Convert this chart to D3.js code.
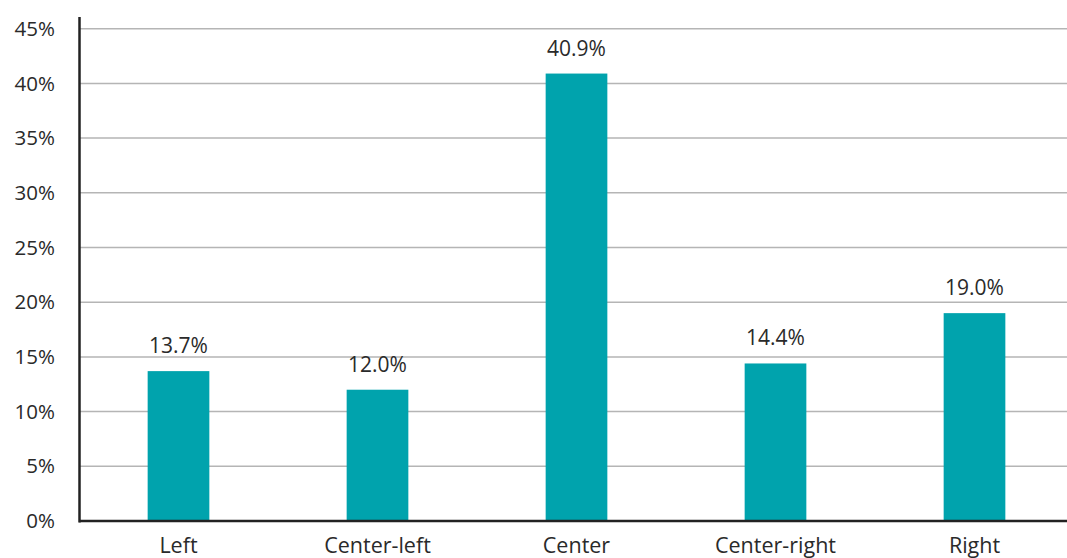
<!DOCTYPE html>
<html>
<head>
<meta charset="utf-8">
<script src="https://cdn.jsdelivr.net/npm/d3@7"></script>
<style>
  body { margin: 0; background: #fff; }
  svg text { font-family: "Open Sans", "Noto Sans", sans-serif; fill: #2a2a2a; }
</style>
</head>
<body>
<div id="chart-area"></div>
<script>
const WIDTH = 1067
const HEIGHT = 558
const MARGIN = { LEFT: 79, RIGHT: -7, TOP: 28.7, BOTTOM: 37 }

// data
const categories = ["Left", "Center-left", "Center", "Center-right", "Right"]
const values = [13.7, 12.0, 40.9, 14.4, 19.0]
const yTicks = [0, 5, 10, 15, 20, 25, 30, 35, 40, 45]

const svg = d3.select("#chart-area").append("svg")
  .attr("width", WIDTH)
  .attr("height", HEIGHT)

const x = d3.scaleBand()
  .domain(categories)
  .range([MARGIN.LEFT, WIDTH - MARGIN.RIGHT])
  .paddingInner(0.69)
  .paddingOuter(0.345)

const y = d3.scaleLinear()
  .domain([0, 45])
  .range([HEIGHT - MARGIN.BOTTOM, MARGIN.TOP])

// gridlines
svg.append("g")
  .selectAll("line")
  .data(yTicks.filter(d => d > 0))
  .join("line")
  .attr("x1", MARGIN.LEFT)
  .attr("x2", WIDTH)
  .attr("y1", d => y(d))
  .attr("y2", d => y(d))
  .attr("stroke", "#b5b5b5")
  .attr("stroke-width", 1.5)

// y tick labels
svg.append("g")
  .selectAll("text")
  .data(yTicks)
  .join("text")
  .attr("x", 55)
  .attr("y", d => y(d))
  .attr("dy", "0.35em")
  .attr("text-anchor", "end")
  .style("font-size", "20.5px")
  .text(d => d + "%")

// bars
svg.append("g")
  .selectAll("rect")
  .data(values)
  .join("rect")
  .attr("x", (d, i) => x(categories[i]))
  .attr("y", d => y(d))
  .attr("width", x.bandwidth())
  .attr("height", d => y(0) - y(d))
  .attr("fill", "#00a3ad")

// value labels
svg.append("g")
  .selectAll("text")
  .data(values)
  .join("text")
  .attr("x", (d, i) => x(categories[i]) + x.bandwidth() / 2)
  .attr("y", d => y(d) - 18)
  .attr("text-anchor", "middle")
  .style("font-size", "21px")
  .text(d => d.toFixed(1) + "%")

// axes lines
svg.append("line")
  .attr("x1", MARGIN.LEFT + 0.5).attr("x2", MARGIN.LEFT + 0.5)
  .attr("y1", 17).attr("y2", y(0) + 1.5)
  .attr("stroke", "#222").attr("stroke-width", 2.5)
svg.append("line")
  .attr("x1", MARGIN.LEFT).attr("x2", WIDTH)
  .attr("y1", y(0)).attr("y2", y(0))
  .attr("stroke", "#222").attr("stroke-width", 2.5)

// category labels
svg.append("g")
  .selectAll("text")
  .data(categories)
  .join("text")
  .attr("x", d => x(d) + x.bandwidth() / 2)
  .attr("y", 553)
  .attr("text-anchor", "middle")
  .style("font-size", "21.5px")
  .text(d => d)
</script>
</body>
</html>
